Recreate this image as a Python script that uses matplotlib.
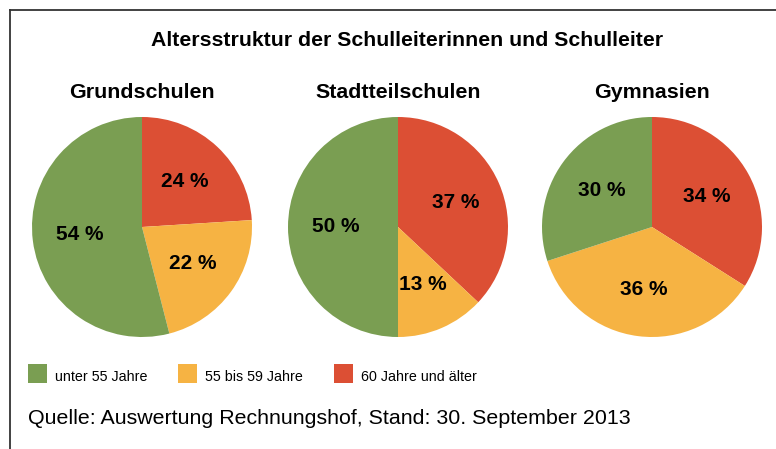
import matplotlib
matplotlib.use("Agg")
from matplotlib import pyplot as plt
from matplotlib.patches import Rectangle
from matplotlib.lines import Line2D

plt.rcParams['font.family'] = ['Liberation Sans', 'DejaVu Sans']

schools = ["Grundschulen", "Stadtteilschulen", "Gymnasien"]
unter55 = [54, 50, 30]
bis59 = [22, 13, 36]
ab60 = [24, 37, 34]
categories = ["unter 55 Jahre", "55 bis 59 Jahre", "60 Jahre und älter"]
colors = ["#7a9e52", "#f6b343", "#dc4f34"]

W, H = 776, 449
fig = plt.figure(figsize=(W / 100, H / 100), dpi=100)

# frame: top and left line only
fig.add_artist(Line2D([10 / W, 1], [1 - 10 / H, 1 - 10 / H], color="#333333", lw=1.3))
fig.add_artist(Line2D([10 / W, 10 / W], [0, 1 - 10 / H], color="#333333", lw=1.3))

fig.text(407 / W, 1 - 40 / H, "Altersstruktur der Schulleiterinnen und Schulleiter",
         ha="center", va="center", fontsize=15.3, fontweight="bold")

centers = [142, 398, 652]
r = 110
cy = 227
for i, name in enumerate(schools):
    cx = centers[i]
    ax = fig.add_axes([(cx - r) / W, (H - cy - r) / H, 2 * r / W, 2 * r / H])
    vals = [ab60[i], bis59[i], unter55[i]]
    cols = [colors[2], colors[1], colors[0]]
    wedges, texts, autotexts = ax.pie(
        vals, colors=cols, startangle=90, counterclock=False,
        autopct=lambda p: "%d %%" % round(p), pctdistance=0.57,
        wedgeprops=dict(linewidth=0), textprops=dict(fontsize=15, fontweight="bold"))
    ax.set_xlim(-1, 1)
    ax.set_ylim(-1, 1)
    ax.set_aspect("equal")
    ax.axis("off")
    fig.text(cx / W, 1 - 92 / H, name, ha="center", va="center",
             fontsize=15.4, fontweight="bold")

# legend
leg_x = [28, 178, 334]
for x, lab, c in zip(leg_x, categories, colors):
    fig.add_artist(Rectangle((x / W, 1 - 383 / H), 19 / W, 19 / H,
                             transform=fig.transFigure, color=c, lw=0))
    fig.text((x + 27) / W, 1 - 377 / H, lab, ha="left", va="center", fontsize=10.3)

fig.text(28 / W, 1 - 418 / H, "Quelle: Auswertung Rechnungshof, Stand: 30. September 2013",
         ha="left", va="center", fontsize=15.4)

fig.savefig("out.png", dpi=100)
